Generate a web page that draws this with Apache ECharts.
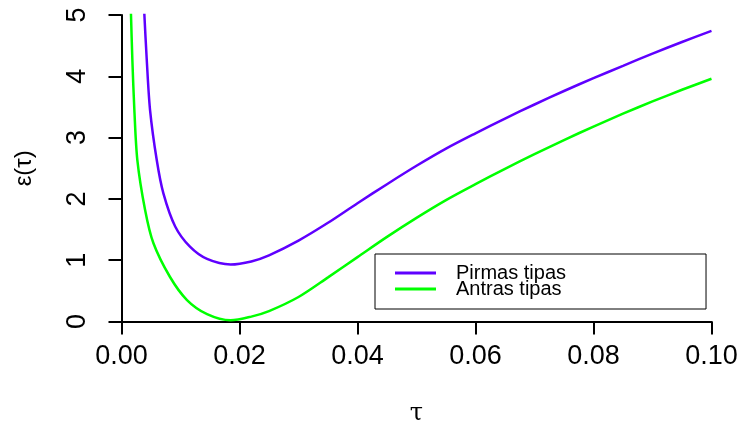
<!DOCTYPE html>
<html>
<head>
<meta charset="utf-8">
<script src="https://cdn.jsdelivr.net/npm/echarts@6/dist/echarts.min.js"></script>
<style>
  html, body { margin: 0; padding: 0; background: #fff; }
  #main { width: 743px; height: 425px; }
</style>
</head>
<body>
<div id="main"></div>
<script>
// reikšmės nuskaitytos nuo paveikslo
var tauPirmas = [0.0034, 0.00388, 0.00428, 0.00484, 0.00598, 0.0071, 0.0091, 0.0116, 0.0145, 0.0185, 0.022, 0.025, 0.03, 0.035, 0.04, 0.045, 0.05, 0.055, 0.06, 0.065, 0.07, 0.075, 0.08, 0.085, 0.09, 0.095, 0.1]
var pirmas = [5.95, 5.0, 4.27, 3.45, 2.63, 2.09, 1.55, 1.22, 1.02, 0.93, 0.98, 1.08, 1.32, 1.61, 1.93, 2.24, 2.54, 2.82, 3.07, 3.31, 3.54, 3.76, 3.97, 4.17, 4.37, 4.56, 4.74]
var tauAntras = [0.0014, 0.00161, 0.00184, 0.00218, 0.00269, 0.004, 0.0054, 0.0082, 0.0111, 0.0145, 0.0185, 0.022, 0.025, 0.03, 0.035, 0.04, 0.045, 0.05, 0.055, 0.06, 0.065, 0.07, 0.075, 0.08, 0.085, 0.09, 0.095, 0.1]
var antras = [5.7, 5.0, 4.27, 3.45, 2.63, 1.82, 1.28, 0.73, 0.35, 0.12, 0.02, 0.08, 0.17, 0.4, 0.72, 1.05, 1.38, 1.69, 1.98, 2.24, 2.49, 2.73, 2.96, 3.18, 3.39, 3.59, 3.78, 3.96]

function pairs(xs, ys) {
  return xs.map(function (x, i) { return [x, ys[i]] })
}

var myChart = echarts.init(document.getElementById('main'), null, { renderer: 'canvas' })
var font = 'Liberation Sans, Arial, sans-serif'

myChart.setOption({
  animation: false,
  grid: {
    left: 121.5,
    right: 31.5,
    top: 15,
    bottom: 103.5,
    containLabel: false,
    outerBoundsMode: 'none'
  },
  legend: {
    left: 375,
    top: 254,
    orient: 'vertical',
    icon: 'rect',
    itemWidth: 41,
    itemHeight: 3,
    itemGap: -4,
    padding: [9, 140, 10, 20],
    borderColor: '#000',
    borderWidth: 1,
    borderRadius: 0,
    textStyle: {
      fontFamily: font,
      fontSize: 20,
      color: '#000',
      padding: [0, 0, 0, 15]
    },
    data: ['Pirmas tipas', 'Antras tipas']
  },
  xAxis: {
    type: 'value',
    min: 0,
    max: 0.1,
    interval: 0.02,
    name: 'τ',
    nameLocation: 'middle',
    nameGap: 80,
    nameTextStyle: { fontFamily: 'DejaVu Serif, serif', fontSize: 24, color: '#000' },
    splitLine: { show: false },
    axisLine: { lineStyle: { color: '#000', width: 2 } },
    axisTick: { length: 13, lineStyle: { color: '#000', width: 2 } },
    axisLabel: {
      fontFamily: font,
      fontSize: 27,
      color: '#000',
      margin: 22,
      formatter: function (v) { return v.toFixed(2) }
    }
  },
  yAxis: {
    type: 'value',
    min: 0,
    max: 5,
    interval: 1,
    name: 'ε(τ)',
    nameLocation: 'middle',
    nameGap: 85,
    nameRotate: 90,
    nameTextStyle: { fontFamily: font, fontSize: 24, color: '#000' },
    splitLine: { show: false },
    axisLine: { lineStyle: { color: '#000', width: 2 } },
    axisTick: { length: 13, lineStyle: { color: '#000', width: 2 } },
    axisLabel: {
      fontFamily: font,
      fontSize: 27,
      color: '#000',
      rotate: 90,
      margin: 30
    }
  },
  series: [
    {
      name: 'Pirmas tipas',
      type: 'line',
      data: pairs(tauPirmas, pirmas),
      smooth: 0.3,
      showSymbol: false,
      clip: true,
      color: '#5f00ff',
      lineStyle: { color: '#5f00ff', width: 2.5 }
    },
    {
      name: 'Antras tipas',
      type: 'line',
      data: pairs(tauAntras, antras),
      smooth: 0.3,
      showSymbol: false,
      clip: true,
      color: '#00ff00',
      lineStyle: { color: '#00ff00', width: 2.5 }
    }
  ]
})
</script>
</body>
</html>
